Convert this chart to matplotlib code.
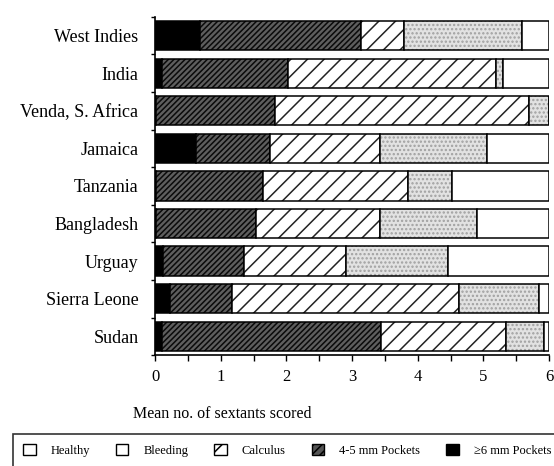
import matplotlib.pyplot as plt
from matplotlib.patches import Patch
from matplotlib.ticker import MultipleLocator, FixedLocator

plt.rcParams['font.family'] = ['Liberation Serif', 'DejaVu Serif']
plt.rcParams['hatch.linewidth'] = 1.1

countries = ["West Indies", "India", "Venda, S. Africa", "Jamaica", "Tanzania",
             "Bangladesh", "Urguay", "Sierra Leone", "Sudan"]

# mean sextants per condition
pockets6 = [0.68, 0.10, 0.02, 0.62, 0.02, 0.02, 0.12, 0.22, 0.10]
pockets45 = [2.45, 1.92, 1.80, 1.13, 1.62, 1.51, 1.24, 0.95, 3.34]
calculus = [0.66, 3.17, 3.88, 1.68, 2.21, 1.90, 1.55, 3.46, 1.90]
bleeding = [1.80, 0.11, 0.30, 1.62, 0.67, 1.47, 1.55, 1.21, 0.58]
healthy = [0.41, 0.70, 0.00, 0.95, 1.48, 1.10, 1.54, 0.16, 0.08]

labels = ["Healthy", "Bleeding", "Calculus", "4-5 mm Pockets", "\u22656 mm Pockets"]

fig = plt.figure(figsize=(5.54, 4.66), dpi=100)
ax = fig.add_axes([0.28, 0.238, 0.711, 0.726])

y = list(range(len(countries)))
h = 0.78

segments = [
    (pockets6, "black", None, "black"),
    (pockets45, "#5e5e5e", "//////", "#0a0a0a"),
    (calculus, "white", "//", "#222222"),
    (bleeding, "#e2e2e2", "....", "#a0a0a0"),
    (healthy, "white", None, "black"),
]

left = [0.0] * len(countries)
for vals, fc, hatch, hc in segments:
    # fill + hatch first, then a plain black outline on top
    ax.barh(y, vals, left=left, height=h, facecolor=fc,
            edgecolor=hc, hatch=hatch, linewidth=0)
    ax.barh(y, vals, left=left, height=h, facecolor="none",
            edgecolor="black", linewidth=1.1)
    left = [a + b for a, b in zip(left, vals)]

ax.set_xlim(0, 6)
ax.set_ylim(len(countries) - 0.5, -0.5)
ax.set_yticks(y)
ax.set_yticklabels(countries, fontsize=13)
ax.yaxis.set_minor_locator(FixedLocator([i - 0.5 for i in range(len(countries) + 1)]))
ax.tick_params(axis="y", which="major", length=0, pad=12)
ax.tick_params(axis="y", which="minor", length=3, width=1)
ax.xaxis.set_major_locator(MultipleLocator(1))
ax.xaxis.set_minor_locator(MultipleLocator(0.5))
ax.tick_params(axis="x", which="both", length=4, width=1, labelsize=12, pad=6)
for s in ["top", "right"]:
    ax.spines[s].set_visible(False)
ax.spines["left"].set_linewidth(1.2)
ax.spines["bottom"].set_linewidth(1.2)

ax.text(0.17, -0.175, "Mean no. of sextants scored", transform=ax.transAxes,
        ha="center", va="center", fontsize=11.5)

handles = [
    Patch(facecolor="white", edgecolor="black", label=labels[0]),
    Patch(facecolor="white", edgecolor="black", label=labels[1]),
    Patch(facecolor="white", edgecolor="black", hatch="/", label=labels[2]),
    Patch(facecolor="#555555", edgecolor="black", hatch="////", label=labels[3]),
    Patch(facecolor="black", edgecolor="black", label=labels[4]),
]
leg = fig.legend(handles=handles, loc="upper left",
                 bbox_to_anchor=(13 / 554, 1 - 434 / 466, 548 / 554, 0.0),
                 mode="expand", ncol=5, fontsize=9, frameon=True, fancybox=False,
                 handlelength=1.0, handleheight=1.0, handletextpad=1.2,
                 columnspacing=1.6, borderaxespad=0.0, borderpad=0.8)
leg.get_frame().set_edgecolor("black")
leg.get_frame().set_linewidth(1.2)

fig.savefig("out.png", dpi=100)
